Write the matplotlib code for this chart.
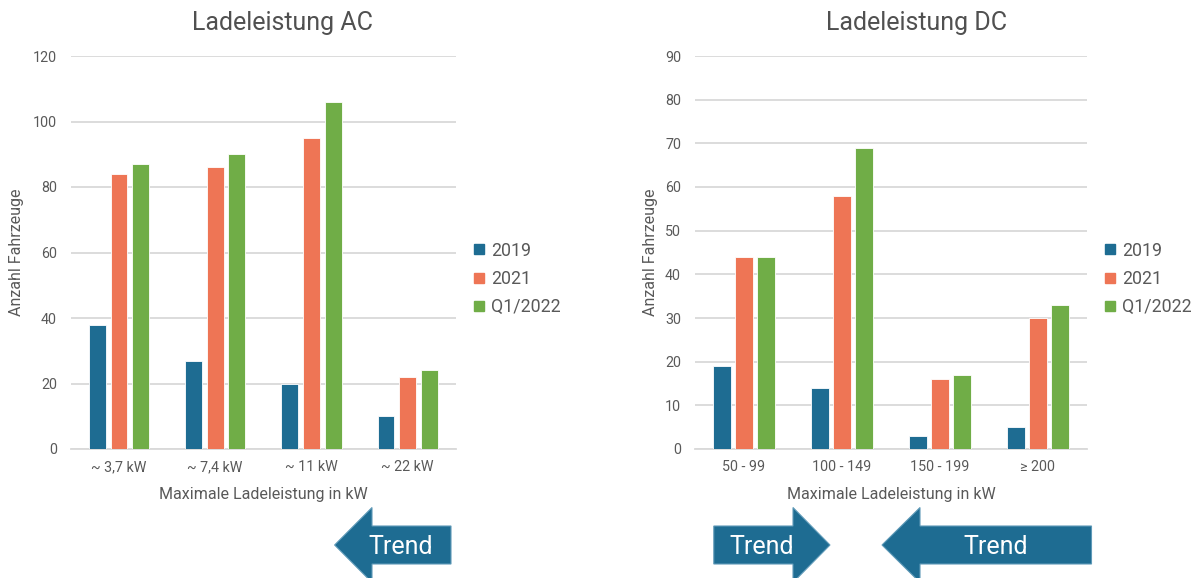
import matplotlib
matplotlib.use("Agg")
import matplotlib.pyplot as plt
from matplotlib.patches import Polygon
from matplotlib.lines import Line2D

plt.rcParams['font.family'] = ['Roboto', 'DejaVu Sans']

# ---- data ----
series = ["2019", "2021", "Q1/2022"]
colors = ["#1E6C92", "#EE7555", "#70AD47"]

ac_categories = ["~ 3,7 kW", "~ 7,4 kW", "~ 11 kW", "~ 22 kW"]
ac_2019 = [38, 27, 20, 10]
ac_2021 = [84, 86, 95, 22]
ac_q1_2022 = [87, 90, 106, 24]

dc_categories = ["50 - 99", "100 - 149", "150 - 199", "≥ 200"]
dc_2019 = [19, 14, 3, 5]
dc_2021 = [44, 58, 16, 30]
dc_q1_2022 = [44, 69, 17, 33]

W, H = 1203, 578
fig = plt.figure(figsize=(W / 100, H / 100), dpi=100)
fig.patch.set_facecolor("white")

GRID = "#D9D9D9"
TXT = "#595959"
ARROW = "#1E6C92"


def fx(px):
    return px / W


def fy(py):
    return 1 - py / H


def draw_panel(rect, cats, values, ymax, ystep, title, title_x, ylabel_x):
    ax = fig.add_axes(rect)
    x = list(range(len(cats)))
    width = 0.175
    offs = [-0.225, 0.0, 0.225]
    for vals, off, col, name in zip(values, offs, colors, series):
        ax.bar([i + off for i in x], vals, width=width, color=col,
               edgecolor="white", linewidth=0.6, label=name, zorder=3)
    ax.set_xlim(-0.5, len(cats) - 0.5)
    ax.set_ylim(0, ymax)
    ax.set_yticks(range(0, ymax + 1, ystep))
    ax.set_xticks(x)
    ax.set_xticklabels(cats)
    ax.grid(axis="y", color=GRID, linewidth=1.3, zorder=0)
    for s in ["top", "right", "left"]:
        ax.spines[s].set_visible(False)
    ax.spines["bottom"].set_color(GRID)
    ax.spines["bottom"].set_linewidth(1.3)
    ax.tick_params(axis="both", length=0, colors=TXT, labelsize=10.3)
    ax.tick_params(axis="y", pad=10)
    ax.tick_params(axis="x", pad=8)
    ax.set_xlabel("Maximale Ladeleistung in kW", color=TXT, fontsize=11.5)
    ax.xaxis.set_label_coords(0.5, -0.097)
    ax.set_ylabel("Anzahl Fahrzeuge", color=TXT, fontsize=11.5)
    ax.yaxis.set_label_coords(ylabel_x, 0.5)
    fig.text(title_x, fy(23), title, ha="center", va="center",
             fontsize=18, color="#505050")
    return ax


axL = draw_panel([fx(70.8), fy(449), fx(385), 393 / H], ac_categories,
                 [ac_2019, ac_2021, ac_q1_2022], 120, 20,
                 "Ladeleistung AC", fx(283), -0.122)
axR = draw_panel([fx(695), fy(449), fx(392), 393 / H], dc_categories,
                 [dc_2019, dc_2021, dc_q1_2022], 90, 10,
                 "Ladeleistung DC", fx(916.5), -0.095)

handles = [Line2D([], [], marker="s", linestyle="none", markersize=7.5,
                  markerfacecolor=c, markeredgecolor=c) for c in colors]
for lx in (474, 1105):
    fig.legend(handles, series, loc="center left",
               bbox_to_anchor=(fx(lx), fy(279)), frameon=False,
               fontsize=12.8, labelcolor=TXT, handlelength=0.6,
               handletextpad=0.35, labelspacing=0.58, borderpad=0,
               borderaxespad=0)


# ---- trend arrows ----
def arrow(tip, base, tail, text_x):
    yc, body_half, head_half = 545, 19, 37.5
    pts = [(tip, yc), (base, yc - head_half), (base, yc - body_half),
           (tail, yc - body_half), (tail, yc + body_half),
           (base, yc + body_half), (base, yc + head_half)]
    poly = Polygon([(fx(px), fy(py)) for px, py in pts], closed=True,
                   transform=fig.transFigure, facecolor=ARROW,
                   edgecolor="#5F9AB8", linewidth=0.8, clip_on=False)
    fig.add_artist(poly)
    fig.text(fx(text_x), fy(547), "Trend", ha="center", va="center",
             color="white", fontsize=18)


arrow(334.6, 372, 451, 401)
arrow(830, 793, 713.8, 762)
arrow(882, 920, 1091.5, 996)

fig.savefig("out.png", dpi=100, facecolor="white")
